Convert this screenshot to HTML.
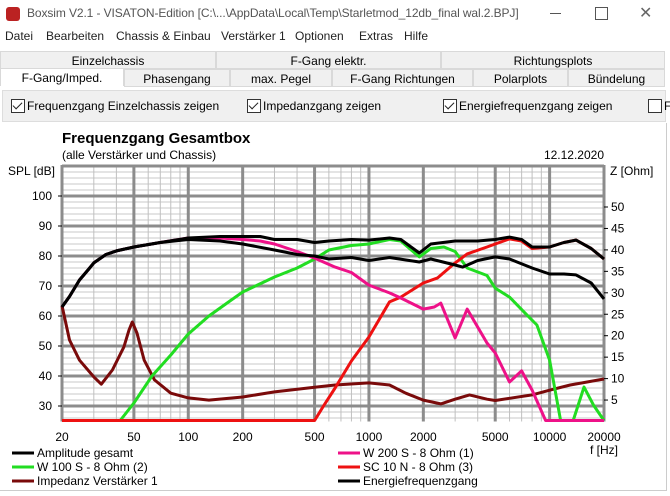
<!DOCTYPE html>
<html><head><meta charset="utf-8">
<style>
body{margin:0;width:670px;height:496px;overflow:hidden;background:#fff;font-family:"Liberation Sans","DejaVu Sans",sans-serif;font-size:12px;color:#000;position:relative}
.abs{position:absolute;white-space:nowrap}
.tab{position:absolute;height:18px;line-height:18px;text-align:center;background:#f0f0f0;border:1px solid #d9d9d9;box-sizing:border-box;font-size:12px}
.cb{display:inline-block;width:12px;height:12px;border:1px solid #333;background:#fff;vertical-align:-3px;margin-right:2px;position:relative}
.cb.on::after{content:"";position:absolute;left:3px;top:0px;width:4px;height:8px;border:solid #222;border-width:0 1.5px 1.5px 0;transform:rotate(45deg)}
</style></head><body>
<div class="abs" style="left:0;top:0;width:670px;height:28px;background:#fff">
 <div class="abs" style="left:6px;top:7px;width:14px;height:14px;background:#b22;border-radius:3px"></div>
 <div class="abs" style="left:27px;top:6px;color:#555;font-size:12px;letter-spacing:-0.1px">Boxsim V2.1 - VISATON-Edition [C:\...\AppData\Local\Temp\Starletmod_12db_final wal.2.BPJ]</div>
 <div class="abs" style="left:550px;top:13px;width:11px;height:1px;background:#555"></div>
 <div class="abs" style="left:595px;top:7px;width:11px;height:11px;border:1px solid #555"></div>
 <div class="abs" style="left:639px;top:3px;color:#666;font-size:16px;font-weight:300">✕</div>
</div>
<div class="abs" style="left:0;top:29px;height:18px;color:#222">
 <span class="abs" style="left:5px">Datei</span>
 <span class="abs" style="left:46px">Bearbeiten</span>
 <span class="abs" style="left:116px">Chassis &amp; Einbau</span>
 <span class="abs" style="left:221px">Verstärker 1</span>
 <span class="abs" style="left:295px">Optionen</span>
 <span class="abs" style="left:359px">Extras</span>
 <span class="abs" style="left:404px">Hilfe</span>
</div>
<div class="tab" style="left:0;top:51px;width:216px">Einzelchassis</div>
<div class="tab" style="left:216px;top:51px;width:225px">F-Gang elektr.</div>
<div class="tab" style="left:441px;top:51px;width:224px">Richtungsplots</div>
<div class="tab" style="left:0;top:68px;width:124px;background:#fff;border-bottom:none">F-Gang/Imped.</div>
<div class="tab" style="left:124px;top:69px;width:106px">Phasengang</div>
<div class="tab" style="left:230px;top:69px;width:102px">max. Pegel</div>
<div class="tab" style="left:332px;top:69px;width:141px">F-Gang Richtungen</div>
<div class="tab" style="left:473px;top:69px;width:95px">Polarplots</div>
<div class="tab" style="left:568px;top:69px;width:97px">Bündelung</div>
<div class="abs" style="left:2px;top:90px;width:664px;height:32px;background:#f0f0f0;border:1px solid #ddd;box-sizing:border-box">
 <span class="abs" style="left:8px;top:8px"><span class="cb on"></span>Frequenzgang Einzelchassis zeigen</span>
 <span class="abs" style="left:244px;top:8px"><span class="cb on"></span>Impedanzgang zeigen</span>
 <span class="abs" style="left:440px;top:8px"><span class="cb on"></span>Energiefrequenzgang zeigen</span>
 <span class="abs" style="left:645px;top:8px"><span class="cb"></span>F</span>
</div>
<div class="abs" style="left:666px;top:123px;width:1px;height:368px;background:#ccc"></div>
<div class="abs" style="left:0;top:490px;width:667px;height:1px;background:#ccc"></div>
<svg class="abs" style="left:0;top:0" width="670" height="496" font-family="Liberation Sans, DejaVu Sans, sans-serif">
 <text x="62" y="143" font-size="15" font-weight="bold">Frequenzgang Gesamtbox</text>
 <text x="62" y="159" font-size="12">(alle Verstärker und Chassis)</text>
 <text x="604" y="159" font-size="12" text-anchor="end">12.12.2020</text>
 <text x="8" y="175" font-size="12">SPL [dB]</text>
 <text x="610" y="175" font-size="12">Z [Ohm]</text>
 <text x="590" y="454" font-size="12">f [Hz]</text>
 <g id="grid"></g>
 <g id="axes"></g>
 <g id="series"></g>
 <g id="legend"></g>
</svg>
<script>
const xTicks=[20,50,100,200,500,1000,2000,5000,10000,20000];
const dbTicks=[30,40,50,60,70,80,90,100];
const zTicks=[5,10,15,20,25,30,35,40,45,50];
const fAmp=[20,22,25,28,30,35,40,50,70,100,150,200,250,300,400,500,600,800,1000,1300,1500,1900,2200,3000,4000,5000,6000,7000,8000,10000,12000,14000,17000,20000];
const amp=[63,66.5,72,75.5,77.7,80.5,81.7,83,84.5,86,86.5,86.5,86.5,85.5,85.5,84.5,85,85.5,85.3,86,85.5,81,84,85,85,85.5,86.3,85.5,83,83,84.5,85.3,82.5,79];
const fEn=[20,22,25,28,30,35,40,50,70,100,150,200,300,400,500,600,800,1000,1300,1900,2200,3000,3300,4000,5000,6000,8000,10000,12000,14000,17000,20000];
const energy=[63,66.5,72,75.5,77.7,80.5,81.7,83,84.5,85.5,85,84,82,80.5,80,79,79.5,78.5,79.5,78,79,77,76.3,78.5,79.7,79,76,74,74,73.7,71,65.7];
const fW200=[20,22,25,28,30,35,40,50,70,100,150,200,250,300,400,500,650,800,1000,1300,1500,2000,2300,2500,3000,3500,4500,5000,6000,7000,8000,9500,20000];
const w200=[63,66.5,72,75.5,77.7,80.5,81.7,83,84.5,86,86,85.5,85,84,81.5,79.3,76.3,74.5,70.3,67.7,66,62.3,63,64.3,52.7,62.3,51,47.7,38,41.7,35.3,25,25];
const fW100=[20,42,50,63,80,100,130,170,200,300,400,500,600,800,1000,1300,1500,1900,2200,2600,3000,3500,4500,5000,6000,7500,8500,10000,11500,13500,15500,17500,20000];
const w100=[25,25,31,40,47,54,60,65,68,73,76,79,82,83.5,84,85.5,85,79.7,82.5,83,81.5,76,73.5,69.3,66.3,60.3,57,45.3,25,25,36.3,30.3,25];
const fSc10=[20,500,560,650,800,1000,1300,1500,2000,2400,3000,3500,4500,5000,6000,7000,8000,10000,12000,14000,17000,20000];
const sc10=[25,25,30,36,45,53,64.7,66.3,71,72.7,77.7,80.7,83,84,85.7,85,82.5,83,84.5,85.3,82.5,79];
const fImp=[20,22,25,30,33,38,44,47,49,52,57,65,80,100,130,200,300,500,650,1000,1300,1600,2000,2500,3000,3600,4500,5000,6000,8000,10000,13000,20000];
const imp=[27,19,14.3,10.4,8.7,12,17.4,21.3,23.2,20.6,14.3,9.7,6.6,5.5,5,5.7,6.9,8,8.5,9,8.5,6.6,5,4.1,5.2,6.2,5.2,4.9,5.4,6.2,7.3,8.5,9.9];

const X0=62,X1=604,YTOP=165,YBOT=421.5;
const xs=f=>X0+(X1-X0)*Math.log10(f/20)/3;
const ydb=d=>196+(100-d)*3;
const yz=z=>YBOT-z*4.29;
const NS='http://www.w3.org/2000/svg';
function mk(tag,attrs,parent){const e=document.createElementNS(NS,tag);for(const k in attrs)e.setAttribute(k,attrs[k]);parent.appendChild(e);return e;}
const grid=document.getElementById('grid'),axes=document.getElementById('axes'),series=document.getElementById('series'),legend=document.getElementById('legend');
for(let d=26;d<=110;d+=2){if(d%10===0)continue;const y=ydb(d);if(y<YTOP)continue;
 const l=mk('line',{x1:X0,x2:X1,y1:y,y2:y,stroke:'#c8c8c8','stroke-width':1},grid);
 }
for(let dec=10;dec<=10000;dec*=10){for(let m=1;m<=9;m++){const f=dec*m;if(f<20||f>20000)continue;
 const l=mk('line',{x1:xs(f),x2:xs(f),y1:YTOP,y2:YBOT,stroke:'#c0c0c0','stroke-width':1},grid);
 }}
for(const d of dbTicks.concat([110])){const y=ydb(d);if(y<YTOP-1)continue;
 const l=mk('line',{x1:X0,x2:X1,y1:y,y2:y,stroke:'#8c8c8c','stroke-width':3},grid);
 }
mk('line',{x1:X0,x2:X1,y1:YTOP+1,y2:YTOP+1,stroke:'#8c8c8c','stroke-width':3},grid);
for(const f of xTicks){
 const l=mk('line',{x1:xs(f),x2:xs(f),y1:YTOP,y2:YBOT,stroke:'#8c8c8c','stroke-width':3},grid);
 
 const t=mk('text',{x:xs(f),y:441,'font-size':12,'text-anchor':'middle'},axes);t.textContent=f;
 }
for(const d of dbTicks){
 mk('line',{x1:X0-4,x2:X0,y1:ydb(d),y2:ydb(d),stroke:'#000','stroke-width':1},axes);
 const t=mk('text',{x:52,y:ydb(d)+4,'font-size':12,'text-anchor':'end'},axes);t.textContent=d;
 }
for(const z of zTicks){
 mk('line',{x1:X1,x2:X1+4,y1:yz(z),y2:yz(z),stroke:'#000','stroke-width':1},axes);
 const t=mk('text',{x:611,y:yz(z)+4,'font-size':12},axes);t.textContent=z;
 }
function draw(fr,vals,yf,color,name){
 const d=fr.map((f,i)=>(i?'L':'M')+xs(f).toFixed(1)+','+Math.min(YBOT-1,yf(vals[i])).toFixed(1)).join('');
 const p=mk('path',{d:d,fill:'none',stroke:color,'stroke-width':3,'stroke-linejoin':'round'},series);
 }
draw(fImp,imp,yz,'#7a0a0a','impedance-line');
draw(fW100,w100,ydb,'#22dd22','w100-line');
draw(fSc10,sc10,ydb,'#ee1111','sc10-line');
draw(fW200,w200,ydb,'#ee1188','w200-line');
draw(fEn,energy,ydb,'#000','energy-line');
draw(fAmp,amp,ydb,'#000','amplitude-line');
const leg=[[12,453,'#000','Amplitude gesamt'],[12,467,'#22dd22','W 100 S - 8 Ohm (2)'],[12,481,'#7a0a0a','Impedanz Verstärker 1'],
 [338,453,'#ee1188','W 200 S - 8 Ohm (1)'],[338,467,'#ee1111','SC 10 N - 8 Ohm (3)'],[338,481,'#000','Energiefrequenzgang']];
for(const [x,y,c,s] of leg){
 const g=mk('g',{},legend);
 mk('line',{x1:x,x2:x+22,y1:y,y2:y,stroke:c,'stroke-width':3},g);
 const t=mk('text',{x:x+25,y:y+4,'font-size':12},g);t.textContent=s;}
</script>
</body></html>
